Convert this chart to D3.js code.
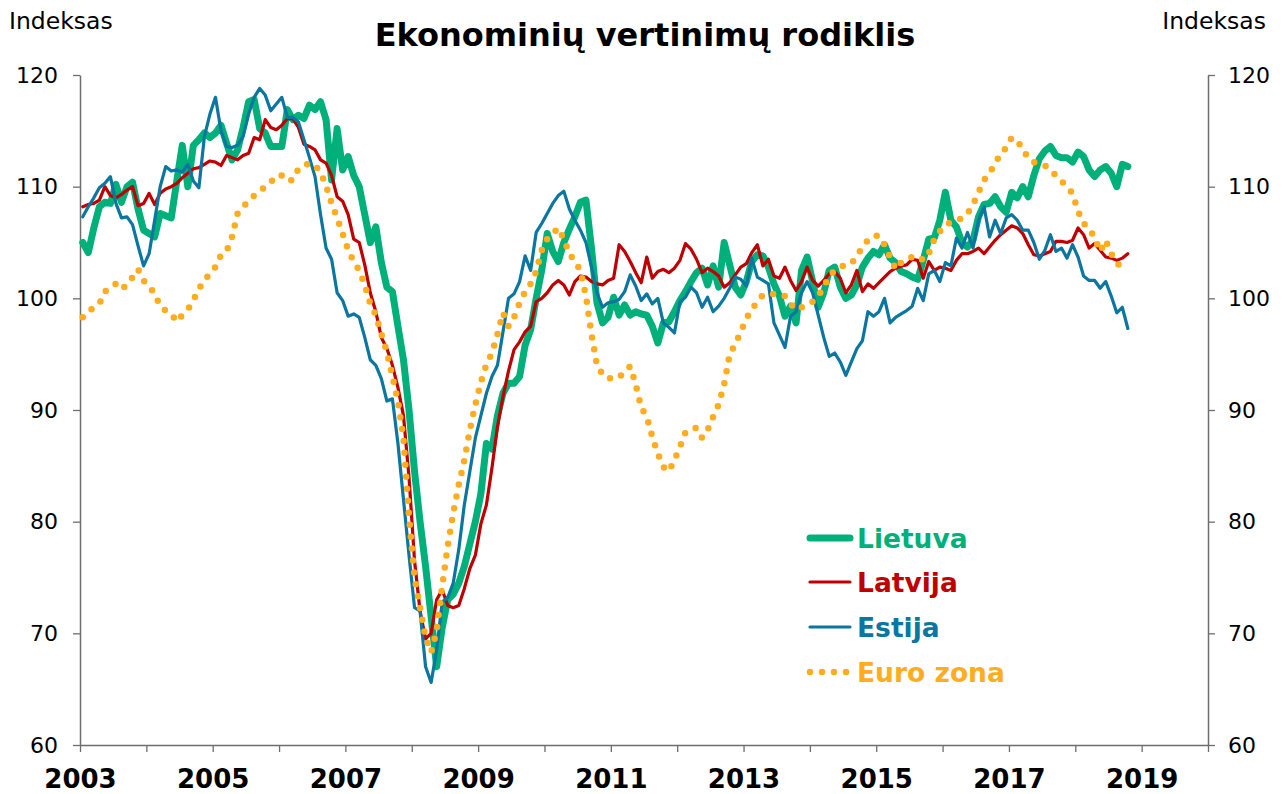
<!DOCTYPE html>
<html>
<head>
<meta charset="utf-8">
<script src="https://cdn.jsdelivr.net/npm/d3@7"></script>
<style>
  html, body { margin: 0; padding: 0; background: #fff; }
  svg { display: block; }
  text { font-family: "DejaVu Sans", Verdana, sans-serif; }
</style>
</head>
<body>
<svg id="chart" width="1284" height="794"></svg>
<script>
// ---- Data (monthly, chart starts Jan of first year) ----
const startYear = 2003;
const yearTicks = d3.range(2003, 2021);
const yearLabels = [2003, 2005, 2007, 2009, 2011, 2013, 2015, 2017, 2019];
const yTicks = [60, 70, 80, 90, 100, 110, 120];
const seriesNames = ["Lietuva", "Latvija", "Estija", "Euro zona"];

const lietuva = [
105.0,104.1,106.3,108.2,108.6,108.5,110.2,108.6,110.0,110.4,108.0,106.1,
105.8,105.5,107.6,107.4,107.2,110.5,113.7,110.0,113.7,114.2,114.8,114.4,
114.8,115.5,113.9,112.4,113.3,115.3,117.6,117.8,115.2,114.8,113.6,113.6,
113.6,116.9,116.0,116.4,116.1,117.3,116.9,117.6,116.0,110.6,115.2,111.5,
112.7,111.0,110.0,107.5,105.0,106.4,103.2,101.0,100.6,97.5,94.5,90.0,
84.5,80.0,76.0,71.5,67.0,70.5,73.0,73.5,74.5,76.0,78.0,80.0,
82.5,87.0,86.5,89.5,91.5,92.4,92.4,93.0,95.8,97.2,100.0,102.5,
105.8,104.2,103.3,105.0,106.2,107.3,108.6,108.8,104.5,99.6,97.8,98.3,
100.1,98.5,99.4,98.5,98.8,98.6,98.5,97.5,96.0,97.8,97.9,98.8,
99.8,100.6,101.5,102.3,102.7,101.2,102.9,101.0,105.0,103.0,101.0,100.3,
101.5,103.3,103.9,103.8,102.8,101.3,100.2,98.4,99.3,97.8,102.5,103.7,
101.5,99.2,100.5,102.5,102.8,101.0,100.0,100.3,101.2,102.8,103.6,104.2,
103.9,104.8,103.6,103.2,102.4,102.2,101.9,101.7,103.4,105.3,105.4,107.0,
109.5,107.0,106.4,105.0,104.6,105.2,107.3,108.4,108.5,109.1,108.2,107.7,
109.5,109.0,110.0,109.1,111.0,112.5,113.2,113.6,112.8,112.6,112.6,112.2,
113.1,112.7,111.5,110.9,111.5,111.8,111.2,110.0,112.0,111.8
];
const latvija = [
108.2,108.4,108.5,108.8,110.0,109.2,109.0,109.3,109.7,110.0,108.3,108.5,
109.4,108.4,109.4,109.8,110.0,110.3,110.8,111.2,111.6,111.7,112.0,112.3,
112.2,111.9,112.8,112.6,112.4,112.8,113.0,114.4,114.2,116.0,115.3,115.1,
115.5,116.1,116.1,115.3,113.8,113.6,113.3,112.4,112.1,111.0,109.1,108.7,
107.5,105.3,105.0,103.0,100.5,98.8,96.5,95.5,94.0,92.0,89.5,84.0,
76.5,72.0,69.5,70.0,73.0,73.9,72.5,72.3,72.5,74.0,75.8,77.0,
79.8,81.5,84.8,88.5,91.2,93.5,95.4,96.1,97.0,97.5,99.7,100.0,
100.5,101.2,101.6,101.2,100.3,101.5,102.0,101.9,101.5,101.3,101.2,101.6,
101.8,104.8,104.2,103.3,102.3,101.4,103.7,101.8,102.4,102.6,102.3,102.7,
103.4,104.9,104.4,103.5,102.3,102.7,102.4,102.0,101.0,101.4,102.1,102.8,
103.1,104.1,104.8,102.9,103.5,102.0,101.8,102.8,101.6,100.7,101.5,102.8,
101.6,101.1,101.6,102.2,102.4,101.8,100.5,101.2,102.5,100.6,101.3,100.9,
101.4,101.9,102.4,102.7,102.9,103.0,103.5,103.4,101.8,103.3,102.5,102.8,
102.7,102.5,103.4,104.0,104.0,104.2,104.5,104.0,104.6,105.2,105.7,106.1,
106.5,106.3,105.8,104.8,103.9,103.8,104.0,104.2,105.1,105.1,105.0,105.2,
106.3,105.7,104.5,104.9,104.3,103.7,103.6,103.4,103.6,104.0
];
const estija = [
107.3,108.2,109.0,109.9,110.3,110.9,108.5,107.2,107.3,106.6,104.7,102.9,
104.0,107.0,110.0,111.8,111.4,111.5,111.3,112.0,110.5,109.9,114.5,116.5,
118.0,115.0,113.6,113.5,113.7,114.5,116.5,118.0,118.8,118.2,116.8,117.4,
118.0,116.2,116.2,115.8,114.2,112.6,110.9,107.5,104.5,103.5,100.5,99.8,
98.4,98.6,98.3,96.5,94.5,94.0,92.8,90.8,91.0,87.0,82.0,77.0,
72.3,72.0,67.0,65.6,68.5,72.8,73.2,74.5,77.5,81.5,84.5,87.5,
89.5,91.5,93.0,94.0,97.0,100.0,100.4,101.5,103.8,102.5,105.9,106.7,
107.6,108.5,109.2,109.6,108.0,107.0,106.1,105.0,102.8,100.5,99.2,99.6,
99.7,99.9,100.6,102.1,101.1,99.8,100.4,99.5,100.0,97.8,97.4,96.9,
99.7,100.1,101.0,100.5,99.2,100.1,98.8,99.3,100.0,100.9,101.9,101.7,
101.1,103.6,101.9,101.6,101.3,97.8,96.7,95.6,98.4,98.8,100.5,101.5,
100.5,98.5,96.5,94.8,95.1,94.3,93.1,94.3,95.5,96.2,98.8,98.4,
98.8,100.0,97.8,98.3,98.6,98.9,99.3,100.9,99.8,102.2,102.5,101.5,
103.2,102.9,105.4,104.5,105.9,104.5,107.0,108.2,105.5,107.0,105.8,107.2,
107.5,107.0,106.1,106.1,105.0,103.5,104.3,105.7,104.2,104.5,103.6,104.8,
103.7,102.0,101.6,101.6,100.9,101.5,100.2,98.7,99.2,97.3
];
const euroZona = [
98.3,98.8,99.2,99.5,100.6,101.0,101.3,100.8,101.2,101.9,102.6,101.6,
101.1,100.4,99.3,98.9,98.6,97.9,98.5,99.0,99.8,100.9,101.5,102.3,
102.8,103.9,104.2,105.5,107.6,108.2,108.7,109.2,109.6,110.0,110.4,111.0,
111.0,110.5,110.6,111.6,111.9,112.1,111.9,111.3,110.1,108.5,107.2,105.8,
104.3,103.3,102.5,101.2,99.5,98.5,96.8,95.2,93.0,90.8,87.5,80.5,
75.0,72.3,69.6,68.3,70.2,74.2,77.8,80.8,83.3,85.5,88.2,90.5,
92.5,94.1,95.1,96.8,98.7,97.5,98.3,99.6,100.6,101.3,102.4,104.3,
105.3,105.8,106.3,105.3,104.0,103.3,102.5,100.2,96.8,94.0,93.2,92.8,
92.9,92.9,93.5,93.9,92.3,90.2,89.4,87.6,86.1,84.9,84.5,85.5,
86.7,88.0,88.3,88.4,87.5,88.2,89.4,90.5,92.3,95.0,95.9,97.0,
98.2,99.0,99.7,100.3,100.3,100.4,100.4,100.2,99.5,99.0,99.2,99.5,
99.7,100.2,101.0,102.0,102.5,102.8,103.0,103.1,103.8,104.6,105.2,105.6,
105.6,104.8,103.7,102.6,103.2,103.5,103.7,103.8,103.4,104.0,105.3,106.0,
106.6,106.8,106.9,107.2,107.6,108.4,109.5,110.6,111.2,112.1,112.9,113.5,
114.4,114.1,113.4,112.5,112.2,112.0,111.9,111.5,111.0,110.5,110.0,109.4,
107.8,106.7,106.3,105.4,104.2,105.2,104.0,103.1,102.9,102.8
];

// ---- Layout & styles ----
const M = { left: 80, right: 1208, top: 75, bottom: 745 };
const colors = { "Lietuva": "#00B07A", "Latvija": "#C00000", "Estija": "#0B76A0", "Euro zona": "#FFAD1F" };
const axisColor = "#6e6e6e";
const FONT = '"DejaVu Sans", Verdana, sans-serif';

const svg = d3.select("#chart");
const x = d3.scaleLinear().domain([2003, 2020]).range([M.left, M.right]);
const y = d3.scaleLinear().domain([60, 120]).range([M.bottom, M.top]);
const tOf = i => startYear + (i + 0.5) / 12;

// ---- Axes ----
const gx = svg.append("g").attr("transform", `translate(0,${M.bottom})`)
  .call(d3.axisBottom(x).tickValues(yearTicks).tickSizeInner(7).tickSizeOuter(0)
    .tickFormat(d => yearLabels.includes(d) ? String(d) : ""));
gx.select(".domain").attr("stroke", axisColor).attr("stroke-width", 1.5);
gx.selectAll(".tick line").attr("stroke", axisColor).attr("stroke-width", 1.3);
gx.selectAll(".tick text").attr("y", 0).attr("dy", 0).attr("transform", "translate(0,43)")
  .style("font-size", "26px").style("font-weight", "bold").attr("fill", "#000")
  .style("font-family", FONT);

const gyL = svg.append("g").attr("transform", `translate(${M.left},0)`)
  .call(d3.axisLeft(y).tickValues(yTicks).tickSizeInner(7).tickSizeOuter(0).tickPadding(15));
const gyR = svg.append("g").attr("transform", `translate(${M.right},0)`)
  .call(d3.axisRight(y).tickValues(yTicks).tickSizeInner(7).tickSizeOuter(0).tickPadding(13));
[gyL, gyR].forEach(g => {
  g.select(".domain").attr("stroke", axisColor).attr("stroke-width", 1.5);
  g.selectAll(".tick line").attr("stroke", axisColor).attr("stroke-width", 1.3);
  g.selectAll(".tick text").style("font-size", "22px").attr("fill", "#000")
    .style("font-family", FONT);
});

// ---- Lines ----
const line = d3.line().x((d, i) => x(tOf(i))).y(d => y(d));
const plot = svg.append("g");
plot.append("path").datum(lietuva).attr("d", line).attr("fill", "none")
  .attr("stroke", colors["Lietuva"]).attr("stroke-width", 7).attr("stroke-linejoin", "round").attr("stroke-linecap", "round");
plot.append("path").datum(latvija).attr("d", line).attr("fill", "none")
  .attr("stroke", colors["Latvija"]).attr("stroke-width", 3.2).attr("stroke-linejoin", "round").attr("stroke-linecap", "round");
plot.append("path").datum(estija).attr("d", line).attr("fill", "none")
  .attr("stroke", colors["Estija"]).attr("stroke-width", 3.2).attr("stroke-linejoin", "round").attr("stroke-linecap", "round");
plot.append("path").datum(euroZona).attr("d", line).attr("fill", "none")
  .attr("stroke", colors["Euro zona"]).attr("stroke-width", 6.5).attr("stroke-linecap", "round")
  .attr("stroke-dasharray", "0 12");

// ---- Titles ----
svg.append("text").attr("x", 645).attr("y", 46).attr("text-anchor", "middle")
  .style("font-size", "32px").style("font-weight", "bold").text("Ekonominių vertinimų rodiklis");
svg.append("text").attr("x", 9).attr("y", 29).style("font-size", "23.5px").text("Indeksas");
svg.append("text").attr("x", 1266).attr("y", 29).attr("text-anchor", "end").style("font-size", "23.5px").text("Indeksas");

// ---- Legend ----
const legY = [538, 582, 627, 672];
const leg = svg.append("g");
seriesNames.forEach((name, i) => {
  const g = leg.append("g").attr("transform", `translate(0,${legY[i]})`);
  const ln = g.append("line").attr("x1", 810).attr("x2", 850).attr("y1", 0).attr("y2", 0)
    .attr("stroke", colors[name]).attr("stroke-linecap", "round");
  if (name === "Lietuva") ln.attr("stroke-width", 7);
  else if (name === "Euro zona") ln.attr("stroke-width", 6.5).attr("stroke-dasharray", "0 12");
  else ln.attr("stroke-width", 3.2);
  g.append("text").attr("x", 857).attr("y", 9.5).style("font-size", "26.5px").style("font-weight", "bold")
    .attr("fill", colors[name]).text(name);
});
</script>
</body>
</html>
